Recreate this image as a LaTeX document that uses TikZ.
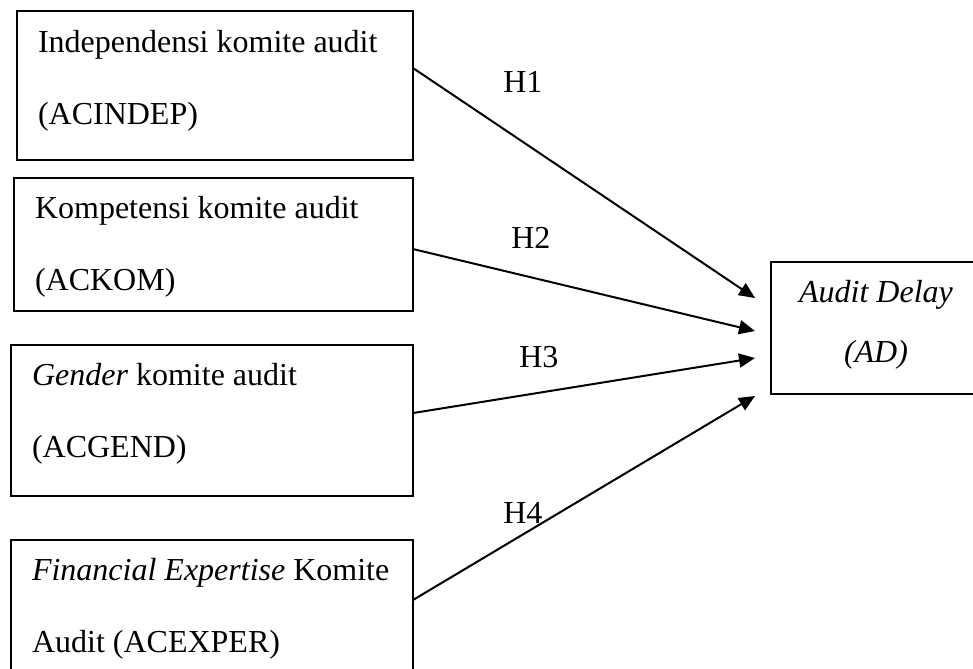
\documentclass[tikz,border=0pt]{standalone}
\usepackage{fontspec}
\setmainfont{Liberation Serif}
\usetikzlibrary{arrows.meta}

\begin{document}
\begin{tikzpicture}[
x=0.75pt, y=-0.75pt,
varbox/.style={draw, line width=1.5pt, anchor=north west, outer sep=0pt, inner xsep=15.75pt, inner ysep=0pt, align=flush left, font=\fontsize{24}{54}\selectfont},
hlabel/.style={anchor=base west, inner sep=0pt, font=\fontsize{24}{28}\selectfont},
arr/.style={-{Triangle[length=12pt, width=10.5pt]}, line width=1.5pt}
]
\useasboundingbox (0,0) rectangle (973,668);
\clip (0,0) rectangle (973,668);
\node[varbox, text width=265.5pt] (indep) at (17,11) {\rule{0pt}{30.75pt}\mbox{Independensi komite audit}\\(ACINDEP)\rule[-27pt]{0pt}{27pt}};
\node[varbox, text width=267.75pt] (kom) at (14,178) {\rule{0pt}{30pt}\mbox{Kompetensi komite audit}\\(ACKOM)\rule[-15.75pt]{0pt}{15.75pt}};
\node[varbox, text width=270pt] (gend) at (11,345) {\rule{0pt}{30pt}\mbox{\textit{Gender} komite audit}\\(ACGEND)\rule[-29.25pt]{0pt}{29.25pt}};
\node[varbox, text width=270pt] (exper) at (11,540) {\rule{0pt}{30pt}\mbox{\textit{Financial Expertise} Komite}\\\mbox{Audit (ACEXPER)}\rule[-28.5pt]{0pt}{28.5pt}};
\node[varbox, align=flush center, inner xsep=7.5pt, text width=142.5pt, font=\fontsize{24}{45}\selectfont\itshape] (ad) at (771,262) {\rule{0pt}{30pt}\mbox{Audit Delay}\\(AD)\rule[-24pt]{0pt}{24pt}};
% arrow tips just left of the AD box
\coordinate (t1) at (755,298);
\coordinate (t2) at (755,331);
\coordinate (t3) at (755,358);
\coordinate (t4) at (755,396);
\draw[arr] ([yshift=13.1pt]indep.east) -- (t1);
\draw[arr] ([yshift=-3.4pt]kom.east) -- (t2);
\draw[arr] ([yshift=5.6pt]gend.east) -- (t3);
\draw[arr] ([yshift=11.25pt]exper.east) -- (t4);
\node[hlabel] (h1) at (503,92) {H1};
\node[hlabel] (h2) at (511,248) {H2};
\node[hlabel] (h3) at (519,367) {H3};
\node[hlabel] (h4) at (503,523) {H4};
\end{tikzpicture}
\end{document}
